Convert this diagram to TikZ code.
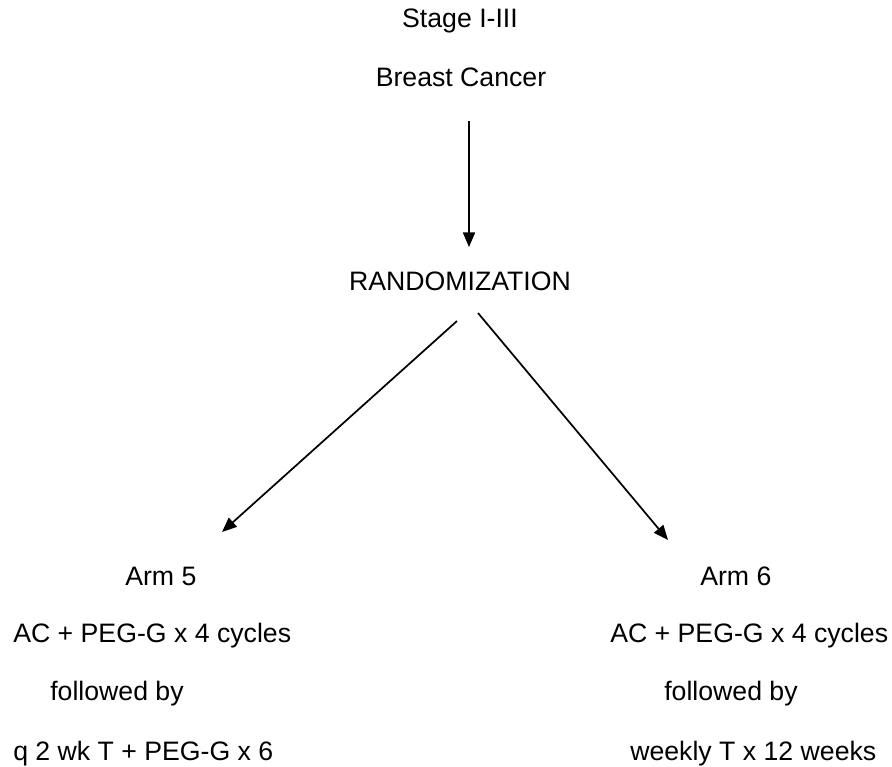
\documentclass[tikz,border=0pt]{standalone}
\usepackage{fontspec}
\setmainfont{Liberation Sans}
\usetikzlibrary{arrows.meta, positioning}
\tikzset{
  lbl/.style  = {inner sep=0pt, anchor=base west,
                 font=\fontsize{20}{24}\selectfont},
  clbl/.style = {lbl, anchor=base},
  flow/.style = {-{Triangle[length=11pt, width=9pt]}, line width=1.3pt},
}

\begin{document}
\begin{tikzpicture}[x=0.75pt, y=-0.75pt]
    \useasboundingbox (0,0) rectangle (892,767);

    \node[clbl] (stage)  at (460,28)  {Stage I-III};
    \node[clbl] (cancer) at (461,86)  {Breast Cancer};
    \node[clbl] (rand)   at (460,290) {RANDOMIZATION};

    % arm 5
    \node[lbl]  (arm5)   at (125,585) {Arm 5};
    \node[lbl]  (reg5)   at (13,642)  {AC + PEG-G x 4 cycles};
    \node[lbl]  (fol5)   at (50,700)  {followed by};
    \node[lbl]  (tax5)   at (13,760)  {q 2 wk T + PEG-G x 6};

    % arm 6
    \node[lbl]  (arm6)   at (700,585) {Arm 6};
    \node[lbl]  (reg6)   at (610,642) {AC + PEG-G x 4 cycles};
    \node[lbl]  (fol6)   at (664,700) {followed by};
    \node[lbl]  (tax6)   at (630,760) {weekly T x 12 weeks};

    \coordinate (from5) at (457,321);
    \coordinate (to5)   at (222,532);
    \coordinate (from6) at (478,313);
    \coordinate (to6)   at (668,540);

    \draw[flow, shorten <=26pt, shorten >=18pt]
        (cancer.south -| 469,0) -- (rand.north -| 469,0);
    \draw[flow] (from5) -- (to5);
    \draw[flow] (from6) -- (to6);
\end{tikzpicture}
\end{document}
